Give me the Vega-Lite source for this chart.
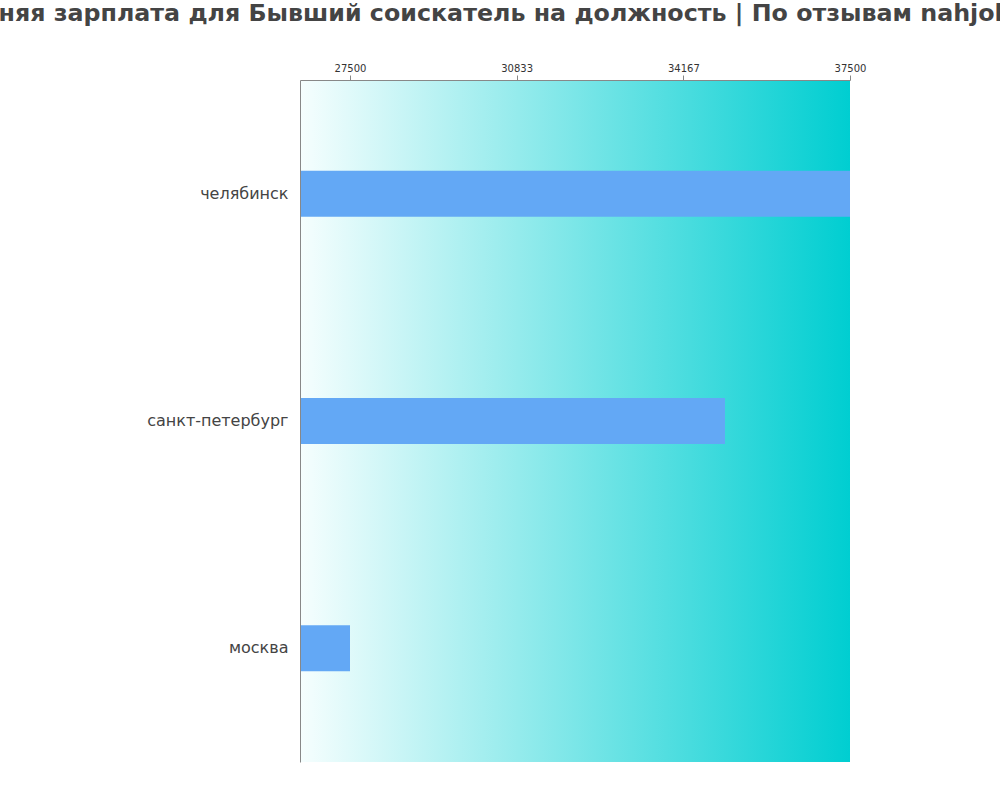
{
  "$schema": "https://vega.github.io/schema/vega-lite/v6.json",
  "autosize": "none",
  "width": 550,
  "height": 682,
  "padding": {"left": 300, "top": 80, "right": 150, "bottom": 38},
  "background": "white",
  "config": {
    "font": "DejaVu Sans",
    "view": {"stroke": null}
  },
  "title": {
    "text": "Средняя зарплата для Бывший соискатель на должность | По отзывам nahjob.ru",
    "font": "DejaVu Sans",
    "fontSize": 23.75,
    "fontWeight": "bold",
    "color": "#444444",
    "anchor": "middle",
    "frame": "group",
    "dx": -86,
    "offset": 37
  },
  "data": {
    "values": [
      {"city": "челябинск", "salary": 37500},
      {"city": "санкт-петербург", "salary": 35000},
      {"city": "москва", "salary": 27500}
    ]
  },
  "layer": [
    {
      "data": {"values": [{}]},
      "mark": {
        "type": "rect",
        "color": {
          "gradient": "linear",
          "x1": 0, "x2": 1, "y1": 0, "y2": 0,
          "stops": [
            {"offset": 0, "color": "#f6fefe"},
            {"offset": 1, "color": "#00CED1"}
          ]
        }
      },
      "encoding": {
        "x": {"datum": 26500, "type": "quantitative"},
        "x2": {"datum": 37500}
      }
    },
    {
      "mark": {"type": "bar", "color": "#63A8F5", "size": 46, "clip": true},
      "encoding": {
        "y": {
          "field": "city",
          "type": "nominal",
          "sort": null,
          "axis": {
            "title": null,
            "ticks": false,
            "labelFontSize": 16,
            "labelColor": "#444444",
            "labelPadding": 12,
            "domainColor": "#888888",
            "labelFont": "DejaVu Sans",
            "zindex": 1
          }
        },
        "x": {
          "field": "salary",
          "type": "quantitative",
          "scale": {"domain": [26500, 37500], "nice": false, "zero": false},
          "axis": {
            "orient": "top",
            "title": null,
            "values": [27500, 30833, 34167, 37500],
            "format": "d",
            "grid": false,
            "labelFlush": false,
            "labelOverlap": false,
            "labelFontSize": 10,
            "labelColor": "#333333",
            "tickColor": "#888888",
            "tickSize": 5,
            "domainColor": "#888888",
            "labelFont": "DejaVu Sans",
            "zindex": 1
          }
        }
      }
    }
  ]
}
